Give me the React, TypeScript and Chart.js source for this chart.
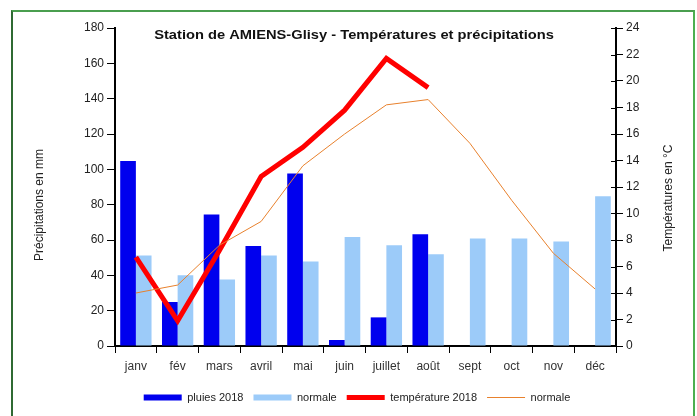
import React, { useEffect, useRef } from "react";
import { Chart, registerables } from "chart.js";

Chart.register(...registerables);

const categories = ["janv", "fév", "mars", "avril", "mai", "juin", "juillet", "août", "sept", "oct", "nov", "déc"];
const pluies2018 = [104.7, 24.9, 74.4, 56.6, 97.6, 3.4, 16.2, 63.2, null, null, null, null];
const pluiesNormale = [51.2, 40, 37.7, 51.2, 47.9, 61.7, 57, 51.9, 60.9, 60.9, 59.2, 84.7];
const temp2018 = [6.7, 1.9, 7.2, 12.8, 15.0, 17.8, 21.7, 19.5, null, null, null, null];
const tempNormale = [4.0, 4.6, 7.6, 9.4, 13.6, 16.0, 18.2, 18.6, 15.3, 11.0, 7.0, 4.3];

const titleText = "Station de AMIENS-Glisy - Températures et précipitations";
const leftTitle = "Précipitations en mm";
const rightTitle = "Températures en °C";

const FONT = '"Liberation Sans", Arial, sans-serif';

const overlayPlugin = {
  id: "overlay",
  afterDraw(chart: any) {
    const ctx = chart.ctx;
    const area = chart.chartArea;
    ctx.save();
    // inner ticks of right axis
    const y1 = chart.scales.y1;
    ctx.strokeStyle = "#000";
    ctx.lineWidth = 1;
    y1.ticks.forEach((t: any) => {
      const py = Math.round(y1.getPixelForValue(t.value)) + 0.5;
      ctx.beginPath();
      ctx.moveTo(area.right - 5, py);
      ctx.lineTo(area.right, py);
      ctx.stroke();
    });
    ctx.fillStyle = "#111";
    ctx.textAlign = "center";
    ctx.textBaseline = "middle";
    ctx.save();
    ctx.translate(354, 35);
    ctx.scale(1.13, 1);
    ctx.font = "bold 13px " + FONT;
    ctx.fillText(titleText, 0, 0);
    ctx.restore();
    ctx.font = "12px " + FONT;
    ctx.fillStyle = "#222";
    ctx.save();
    ctx.translate(40, 205);
    ctx.rotate(-Math.PI / 2);
    ctx.fillText(leftTitle, 0, 0);
    ctx.restore();
    ctx.save();
    ctx.translate(669, 198);
    ctx.rotate(-Math.PI / 2);
    ctx.fillText(rightTitle, 0, 0);
    ctx.restore();
    ctx.restore();
  },
};

export default function App() {
  const ref = useRef<HTMLCanvasElement>(null);
  useEffect(() => {
    if (!ref.current) return;
    Chart.defaults.font.family = FONT;
    const chart = new Chart(ref.current, {
      type: "bar",
      data: {
        labels: categories,
        datasets: [
          {
            type: "bar",
            label: "pluies 2018",
            data: pluies2018 as any,
            backgroundColor: "#0000ee",
            yAxisID: "y",
            order: 3,
            barPercentage: 1,
            categoryPercentage: 0.75,
          },
          {
            type: "bar",
            label: "normale",
            data: pluiesNormale,
            backgroundColor: "#9ccbf9",
            yAxisID: "y",
            order: 4,
            barPercentage: 1,
            categoryPercentage: 0.75,
          },
          {
            type: "line",
            label: "température 2018",
            data: temp2018 as any,
            borderColor: "#ff0000",
            backgroundColor: "#ff0000",
            borderWidth: 5,
            pointRadius: 0,
            yAxisID: "y1",
            order: 2,
          },
          {
            type: "line",
            label: "normale",
            data: tempNormale,
            borderColor: "#e8812d",
            backgroundColor: "#e8812d",
            borderWidth: 1,
            pointRadius: 0,
            yAxisID: "y1",
            order: 1,
          },
        ] as any,
      },
      options: {
        responsive: false,
        animation: false,
        layout: { padding: { top: 28, left: 17, right: 0, bottom: 3 } },
        plugins: {
          tooltip: { enabled: false },
          title: { display: false },
          legend: {
            position: "bottom",
            labels: {
              usePointStyle: true,
              pointStyleWidth: 38,
              boxHeight: 6,
              padding: 10,
              color: "#222",
              font: { size: 11 },
              sort: (a: any, b: any) => a.datasetIndex - b.datasetIndex,
              generateLabels: (chart: any) => {
                const items = Chart.defaults.plugins.legend.labels.generateLabels(chart);
                return items.map((it: any) => {
                  const ds = chart.data.datasets[it.datasetIndex];
                  if (ds.type === "line") {
                    it.pointStyle = "line";
                    it.lineWidth = ds.borderWidth;
                    it.strokeStyle = ds.borderColor;
                  } else {
                    it.pointStyle = "rect";
                    it.lineWidth = 0;
                    it.fillStyle = ds.backgroundColor;
                  }
                  return it;
                });
              },
            },
          },
        },
        scales: {
          x: {
            grid: { display: true, drawOnChartArea: false, drawTicks: true, tickLength: 7, color: "#000", offset: true },
            border: { color: "#000", width: 2 },
            ticks: { color: "#333", font: { size: 12 }, padding: 6 },
            afterFit: (s: any) => {
              s.height = 36;
            },
          },
          y: {
            position: "left",
            min: 0,
            max: 180,
            ticks: { stepSize: 20, color: "#222", font: { size: 12 }, padding: 3 },
            grid: { drawOnChartArea: false, drawTicks: true, tickLength: 8, color: "#000" },
            border: { color: "#000", width: 2 },
            afterFit: (s: any) => {
              s.width = 98;
            },
          },
          y1: {
            position: "right",
            min: 0,
            max: 24,
            ticks: { stepSize: 2, color: "#222", font: { size: 12 }, padding: 3 },
            grid: { drawOnChartArea: false, drawTicks: true, tickLength: 7, color: "#000" },
            border: { color: "#000", width: 2 },
            afterFit: (s: any) => {
              s.width = 81;
            },
          },
        },
      },
      plugins: [overlayPlugin],
    });
    return () => chart.destroy();
  }, []);

  return (
    <div style={{ position: "fixed", left: 0, top: 0, width: 697, height: 416, background: "#fff", overflow: "hidden" }}>
      <div
        style={{
          position: "absolute",
          left: 11,
          top: 10,
          width: 680,
          height: 440,
          borderTop: "2px solid #4a9e4f",
          borderRight: "2px solid #4caf50",
          borderLeft: "2px solid #2f6a33",
        }}
      />
      <canvas ref={ref} width={697} height={416} style={{ position: "absolute", left: 0, top: 0 }} />
    </div>
  );
}
